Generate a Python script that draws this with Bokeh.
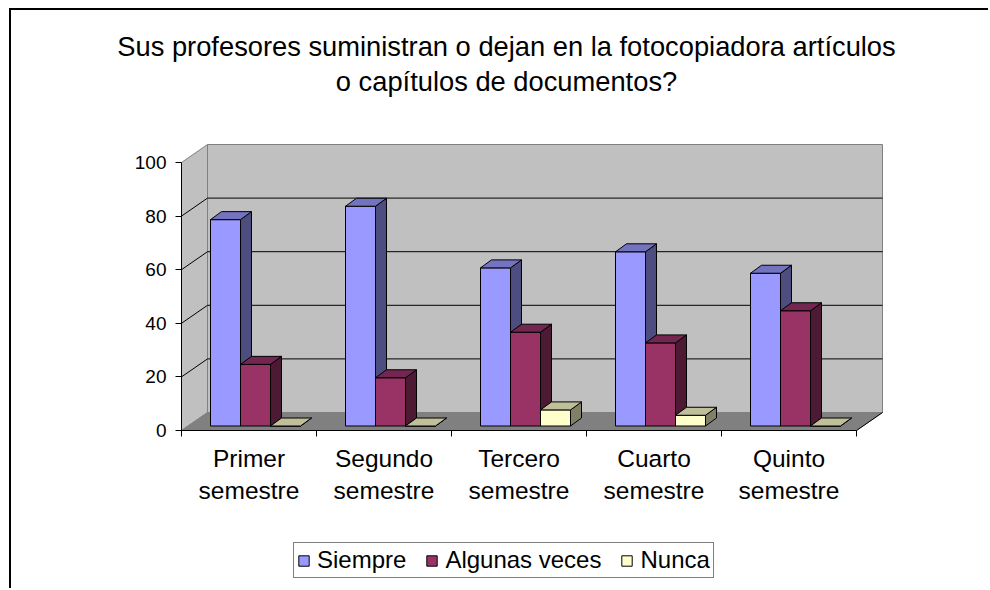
from bokeh.plotting import figure
from bokeh.models import Range1d, LinearAxis, FixedTicker, Label, Legend, LegendItem
from bokeh.core.properties import value
from bokeh.embed import file_html
from bokeh.resources import INLINE

# ---------------- data ----------------
cat_line1 = ["Primer", "Segundo", "Tercero", "Cuarto", "Quinto"]
cat_line2 = ["semestre", "semestre", "semestre", "semestre", "semestre"]
series_names = ["Siempre", "Algunas veces", "Nunca"]
siempre = [77, 82, 59, 65, 57]
algunas_veces = [23, 18, 35, 31, 43]
nunca = [0, 0, 6, 4, 0]
y_ticks = [0, 20, 40, 60, 80, 100]
title_line1 = "Sus profesores suministran o dejan en la fotocopiadora artículos"
title_line2 = "o capítulos de documentos?"

series = [siempre, algunas_veces, nunca]

# ---------------- style ----------------
FONT = "Liberation Sans"
front_colors = ["#9999FF", "#993366", "#FFFFCC"]
top_colors = ["#7373BF", "#732650", "#BFBF99"]
side_colors = ["#4D4D80", "#4D1A33", "#808066"]
WALL = "#C0C0C0"
FLOOR = "#808080"
EDGE = "#808080"

PX_X = 135.0   # pixels per category
PX_Y = 2.68    # pixels per value unit
W, H = 979, 580
CONTENT_X, CONTENT_Y = 11, 10   # page position of the canvas
LEFT = 60                       # left panel width
AXIS_X = 181                    # page x of value axis
ZERO_Y = 430                    # page y of value 0

frame_left = CONTENT_X + LEFT
frame_right = CONTENT_X + W
frame_top = CONTENT_Y
frame_bottom = CONTENT_Y + H

NCAT = len(cat_line1)
YMAX = y_ticks[-1]
DX = 26 / PX_X        # full depth offset
DY = 18 / PX_Y
F = 0.25              # bar front depth fraction
BDX = 11 / PX_X       # bar depth
BDY = 8 / PX_Y
BW = 30 / PX_X        # bar width
G = (1 - 3 * BW) / 2  # gap each side
TICK = 6 / PX_Y

p = figure(width=W, height=H, output_backend="svg", toolbar_location=None,
           x_axis_location=None, y_axis_location=None,
           x_range=Range1d((frame_left - AXIS_X) / PX_X, (frame_right - AXIS_X) / PX_X),
           y_range=Range1d(-(frame_bottom - ZERO_Y) / PX_Y, (ZERO_Y - frame_top) / PX_Y),
           min_border_left=LEFT, min_border_right=0, min_border_top=0, min_border_bottom=0,
           background_fill_color="white", border_fill_color="white",
           outline_line_color=None)
p.styles = {"border-left": "2px solid black", "border-top": "2px solid black",
            "margin-left": "9px", "margin-top": "8px"}
p.grid.visible = False

yaxis = LinearAxis(ticker=FixedTicker(ticks=y_ticks), axis_line_color=None,
                   fixed_location=0,
                   major_tick_line_color="black", major_tick_out=6, major_tick_in=0,
                   minor_tick_line_color=None,
                   major_label_text_font=FONT, major_label_text_font_size="19px",
                   major_label_standoff=9, major_label_text_color="black")
p.add_layout(yaxis, "left")

# walls and floor
p.patch([0, 0, DX, DX], [0, YMAX, YMAX + DY, DY], fill_color=WALL, line_color=EDGE)
p.patch([DX, DX, NCAT + DX, NCAT + DX], [DY, YMAX + DY, YMAX + DY, DY], fill_color=WALL, line_color=EDGE)
p.patch([0, NCAT, NCAT + DX, DX], [0, 0, DY, DY], fill_color=FLOOR, line_color=FLOOR)

inner = y_ticks[1:-1]
p.segment(x0=[DX] * len(inner), y0=[t + DY for t in inner], x1=[NCAT + DX] * len(inner),
          y1=[t + DY for t in inner], line_color="black", line_width=1)
p.segment(x0=[0] * len(inner), y0=inner, x1=[DX] * len(inner), y1=[t + DY for t in inner],
          line_color="black", line_width=1)
p.segment(x0=[0, 0, NCAT], y0=[0, 0, 0], x1=[0, NCAT, NCAT + DX], y1=[YMAX, 0, DY],
          line_color="black", line_width=1)
p.segment(x0=list(range(NCAT + 1)), y0=[0] * (NCAT + 1), x1=list(range(NCAT + 1)),
          y1=[-TICK] * (NCAT + 1), line_color="black", line_width=1)

# bars
front_renderers = []
for j, vals in enumerate(series):
    x0 = [i + G + j * BW + F * DX for i in range(NCAT)]
    x1 = [a + BW for a in x0]
    y0 = F * DY
    tops = [y0 + v for v in vals]
    fr = p.quad(left=x0, right=x1, bottom=[y0] * NCAT, top=tops,
                fill_color=front_colors[j], line_color="black", line_width=1)
    front_renderers.append(fr)
    p.patches(xs=[[b, b, b + BDX, b + BDX] for b in x1],
              ys=[[y0, t, t + BDY, y0 + BDY] for t in tops],
              fill_color=side_colors[j], line_color="black", line_width=1)
    p.patches(xs=[[a, b, b + BDX, a + BDX] for a, b in zip(x0, x1)],
              ys=[[t, t, t + BDY, t + BDY] for t in tops],
              fill_color=top_colors[j], line_color="black", line_width=1)

# category labels
cx = [i + 0.5 for i in range(NCAT)]
p.text(x=cx, y=[-27.7 / PX_Y] * NCAT, text=cat_line1, text_align="center",
       text_baseline="alphabetic", text_font=value(FONT), text_font_size="24.5px",
       text_color="black")
p.text(x=cx, y=[-60.3 / PX_Y] * NCAT, text=cat_line2, text_align="center",
       text_baseline="alphabetic", text_font=value(FONT), text_font_size="24.5px",
       text_color="black")

# title
tx = (506 - AXIS_X) / PX_X
p.add_layout(Label(x=tx, y=(ZERO_Y - 45.5) / PX_Y, text=title_line1, text_align="center",
                   text_baseline="alphabetic", text_font=FONT, text_font_size="27.3px",
                   text_color="black"))
p.add_layout(Label(x=tx, y=(ZERO_Y - 81) / PX_Y, text=title_line2, text_align="center",
                   text_baseline="alphabetic", text_font=FONT, text_font_size="27.3px",
                   text_color="black"))

legend = Legend(items=[LegendItem(label=n, renderers=[r]) for n, r in zip(series_names, front_renderers)],
                orientation="horizontal", location=(293 - frame_left, frame_bottom - 578),
                label_text_font=FONT, label_text_font_size="24px", label_text_color="black",
                glyph_width=13, glyph_height=13, label_standoff=7, spacing=19, padding=3,
                margin=0, border_line_color="black", border_line_width=1,
                background_fill_color="white", background_fill_alpha=1.0)
p.add_layout(legend, "center")

open("out.html", "w").write(file_html(p, INLINE))
